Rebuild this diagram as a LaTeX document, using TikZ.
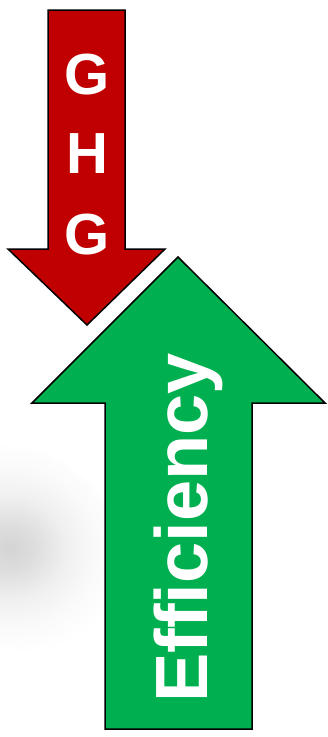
\documentclass[tikz,border=0pt]{standalone}
\usepackage{fontspec}
\setmainfont{Liberation Sans}
\usepackage{xcolor}
\usepackage{tikz}
\usetikzlibrary{positioning}
\definecolor{GhgRed}{HTML}{C00000}
\definecolor{EffGreen}{HTML}{00B050}
\pgfdeclareradialshading{softshadow}{\pgfpoint{0bp}{0bp}}{%
  color(0bp)=(black!17); color(5bp)=(black!13); color(11bp)=(black!6);
  color(17bp)=(black!2); color(23bp)=(white); color(50bp)=(white)}
\tikzset{
  redarrow/.style={draw=black,line width=1.5pt,fill=GhgRed,line join=miter},
  greenarrow/.style={draw=black,line width=1.5pt,fill=EffGreen,line join=miter},
  ghgletter/.style={text=white,font=\fontsize{58}{58}\selectfont\bfseries,
              inner sep=0pt,anchor=base},
  efflabel/.style={text=white,font=\fontsize{74}{74}\selectfont\bfseries,
              inner sep=0pt,anchor=base,rotate=90}
}
\begin{document}
\begin{tikzpicture}[x=1pt,y=-1pt]
  \useasboundingbox (0,0) rectangle (328,737);
  % soft shadow on the left
  \begin{scope}
    \clip (0,0) rectangle (104,737);
    \shade[shading=softshadow,rotate around={-25:(10,548)}]
      (10,548) ellipse (115 and 100);
  \end{scope}
  % downward arrow
  \draw[redarrow] (48,10) -- (125,10) -- (125,249) -- (165,249) -- (87,325)
    -- (8,249) -- (48,249) -- cycle;
  % upward arrow
  \draw[greenarrow] (105,729) -- (252,729) -- (252,403) -- (325,403) -- (178,257)
    -- (32,403) -- (105,403) -- cycle;
  \node[ghgletter] (g1) at (87,94) {G};
  \node[ghgletter] (h) at (87,173) {H};
  \node[ghgletter] (g2) at (87,254) {G};
  \node[efflabel] (eff) at (207,528) {Efficiency};
\end{tikzpicture}
\end{document}
